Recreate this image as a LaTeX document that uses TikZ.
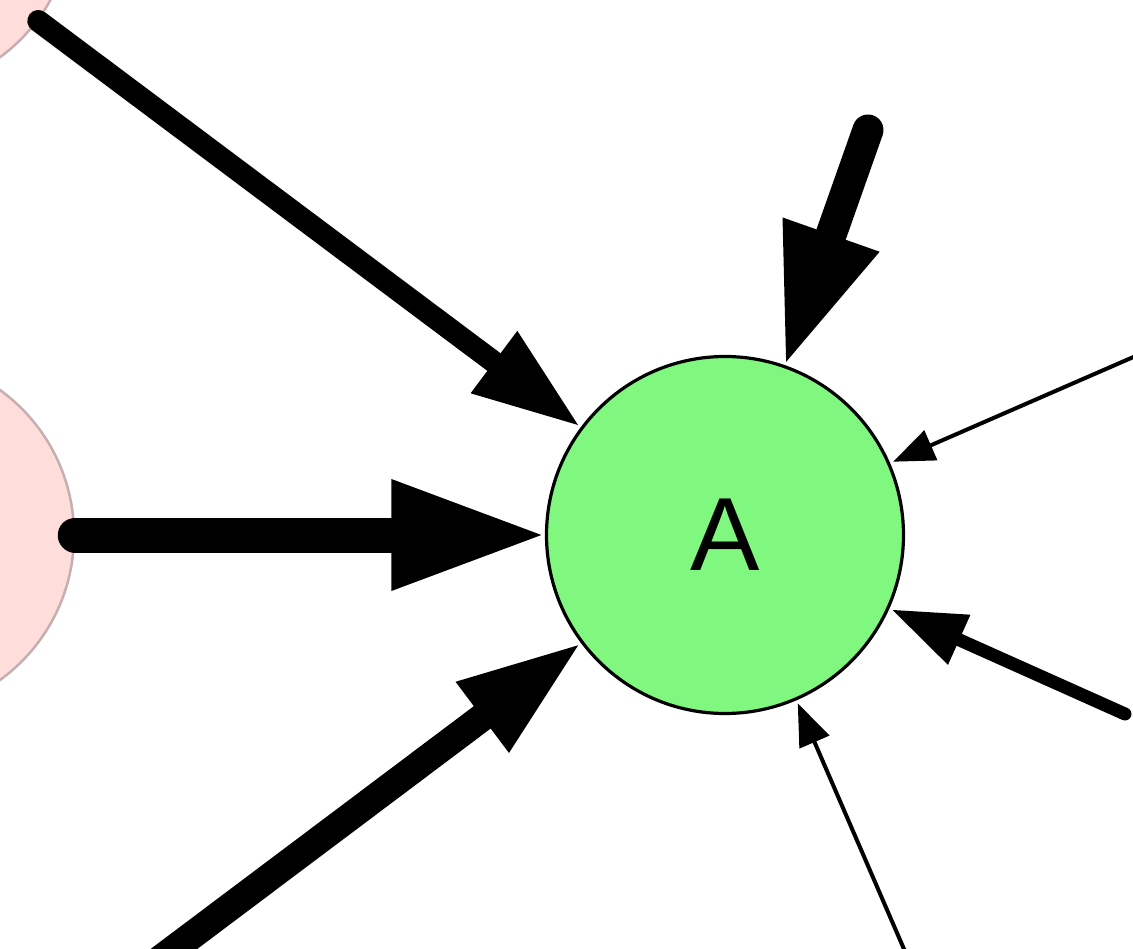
\documentclass[tikz,border=0pt]{standalone}
\usepackage{fontspec}
\setmainfont{Liberation Sans}
\usetikzlibrary{arrows.meta}
\definecolor{nodegreen}{RGB}{128,248,128}
\definecolor{nodepink}{RGB}{255,221,219}
\definecolor{pinkedge}{RGB}{196,176,176}
\tikzset{
  mainnode/.style={circle, draw=black, line width=3.2pt, fill=nodegreen, minimum size=357pt, inner sep=0pt,
    font=\fontsize{104}{120}\selectfont},
  fadednode/.style={circle, draw=pinkedge, line width=2.5pt, fill=nodepink, minimum size=358pt, inner sep=0pt},
  edge/.style n args={3}{draw=black, line cap=round, line width=#1pt, shorten >=3.5pt,
    -{Triangle[length=#2pt,width=#3pt,line width=0pt]}}
}
\begin{document}
\begin{tikzpicture}[x=1pt,y=-1pt]
\useasboundingbox (0,0) rectangle (1133,949);
\clip (0,0) rectangle (1133,949);
\fill[white] (0,0) rectangle (1133,949);
% faded source nodes
\node[fadednode] (p1) at (-106,-87) {};
\node[fadednode] (p2) at (-105,535) {};
% main node
\node[mainnode] (A) at (725,535) {\raisebox{0pt}{A}};
% free ends
\coordinate (s3) at (106,1000);
\coordinate (s4) at (868,130);
\coordinate (s5) at (1200,328);
\coordinate (s6) at (1125,714);
\coordinate (s7) at (926,1000);
% edges
\draw[edge={22}{105}{78}] (p1) -- (A);
\draw[edge={35}{150}{112}] (p2) -- (A);
\draw[edge={28}{120}{89}] (s3) -- (A);
\draw[edge={31}{135}{103}] (s4) -- (A);
\draw[edge={4}{41}{33}] (s5) -- (A);
\draw[edge={13}{73}{55}] (s6) -- (A);
\draw[edge={4}{42}{33}] (s7) -- (A);
\end{tikzpicture}
\end{document}
